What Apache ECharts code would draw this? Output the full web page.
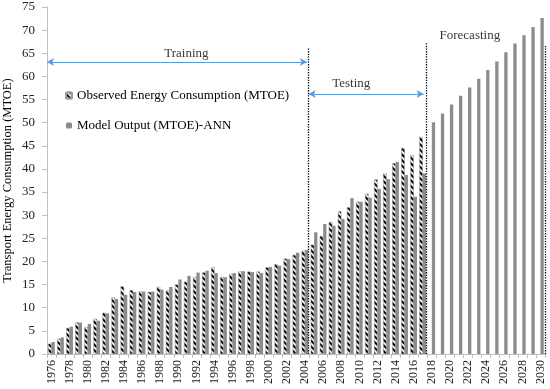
<!DOCTYPE html>
<html>
<head>
<meta charset="utf-8">
<script src="https://cdn.jsdelivr.net/npm/echarts@6/dist/echarts.min.js"></script>
<style>html,body{margin:0;padding:0;background:#fff}#c{width:550px;height:389px}</style>
</head>
<body>
<div id="c"></div>
<script>
const years = ['1976','1977','1978','1979','1980','1981','1982','1983','1984','1985','1986','1987','1988','1989','1990','1991','1992','1993','1994','1995','1996','1997','1998','1999','2000','2001','2002','2003','2004','2005','2006','2007','2008','2009','2010','2011','2012','2013','2014','2015','2016','2017','2018','2019','2020','2021','2022','2023','2024','2025','2026','2027','2028','2029','2030'];
const observed = [2.2,3.3,5.6,6.8,5.8,7.6,8.9,12.2,14.6,13.8,13.5,13.4,14.5,13.7,15.0,15.6,16.6,17.6,18.7,16.6,17.3,17.8,17.8,17.8,18.7,19.4,20.6,21.4,22.3,23.6,25.5,28.5,30.8,31.7,32.9,34.6,37.7,39.0,41.2,44.5,42.9,46.9,null,null,null,null,null,null,null,null,null,null,null,null,null];
const modelOutput = [2.6,3.6,5.9,6.8,6.5,7.2,8.8,11.9,12.8,13.4,13.5,13.5,13.9,14.5,16.1,16.9,17.6,18.0,17.5,16.6,17.5,17.9,17.7,17.5,18.8,19.1,20.5,21.9,22.5,26.3,28.1,27.7,29.2,33.7,32.9,33.8,35.7,37.8,41.5,38.7,34.0,39.0,50.1,52.0,53.9,55.8,57.6,59.5,61.4,63.2,65.2,67.1,68.9,70.7,72.6];
const seriesNames = ['Observed Energy Consumption (MTOE)','Model Output (MTOE)-ANN'];
const phaseNames = ['Training','Testing','Forecasting'];
const yTicks = {min:0, max:75, interval:5};

const serif = '"Liberation Serif","DejaVu Serif",serif';
const chart = echarts.init(document.getElementById('c'), null, {renderer:'canvas'});
const blue = '#5b9bd5';
const dotted = {type:'dotted', color:'#000', width:1.3};
const arrowLine = {type:'solid', color:blue, width:1};
chart.setOption({
  animation:false,
  backgroundColor:'#fff',
  grid:{left:47, right:5, top:7, bottom:35, containLabel:false, outerBoundsMode:'none'},
  legend:{
    orient:'vertical', left:60, top:84, itemGap:17,
    itemWidth:6, itemHeight:6,
    textStyle:{fontFamily:serif, fontSize:13, color:'#000'},
    data:seriesNames
  },
  xAxis:[{
    type:'category', data:years, gridIndex:0,
    axisLine:{lineStyle:{color:'#bfbfbf'}},
    axisTick:{show:true, interval:0, length:4, lineStyle:{color:'#bfbfbf'}},
    axisLabel:{interval:1, rotate:90, margin:6, fontFamily:serif, fontSize:12, color:'#222'}
  },{
    type:'value', min:0, max:55, show:false, gridIndex:0
  }],
  yAxis:{
    type:'value', min:yTicks.min, max:yTicks.max, interval:yTicks.interval,
    name:'Transport Energy Consumption (MTOE)', nameLocation:'middle', nameGap:33, nameMoveOverlap:false,
    nameTextStyle:{fontFamily:serif, fontSize:12.5, color:'#000'},
    axisLine:{show:true, lineStyle:{color:'#bfbfbf'}},
    axisTick:{show:true, length:5, lineStyle:{color:'#bfbfbf'}},
    splitLine:{show:false},
    axisLabel:{margin:12, fontFamily:serif, fontSize:13, color:'#222'}
  },
  series:[
    {
      name:seriesNames[0], type:'bar', data:observed, barWidth:3.3, barGap:'0%',
      itemStyle:{
        color:'#ffffff', borderColor:'#9a9a9a', borderWidth:0.4,
        decal:{symbol:'rect', symbolSize:1, color:'#000', backgroundColor:'#f2f2f2',
               dashArrayX:[1.5,0], dashArrayY:[1.2,1.6], rotation:Math.PI/4}
      }
    },
    {
      name:seriesNames[1], type:'bar', data:modelOutput, barWidth:3.3, barGap:'0%',
      itemStyle:{color:'#8c8c8c'}
    },
    {
      name:'annotations', type:'scatter', xAxisIndex:1, yAxisIndex:0, silent:true,
      symbolSize:0, itemStyle:{color:'rgba(0,0,0,0)'},
      label:{show:true, position:'inside', formatter:'{b}', fontFamily:serif, fontSize:13, color:'#000'},
      data:[
        {name:phaseNames[0], value:[15.4,64.9]},
        {name:phaseNames[1], value:[33.6,58.4]},
        {name:phaseNames[2], value:[46.7,68.8]}
      ],
      markLine:{
        silent:true, animation:false,
        label:{show:false},
        data:[
          [{coord:[28.8,0], symbol:'none', lineStyle:dotted},{coord:[28.8,66.2], symbol:'none'}],
          [{coord:[41.9,0], symbol:'none', lineStyle:dotted},{coord:[41.9,67.2], symbol:'none'}],
          [{coord:[55,0], symbol:'none', lineStyle:dotted},{coord:[55,66.9], symbol:'none'}],
          [{coord:[0,63.1], symbol:'arrow', symbolSize:[6,7], lineStyle:arrowLine},{coord:[28.7,63.1], symbol:'arrow', symbolSize:[6,7]}],
          [{coord:[28.9,56.2], symbol:'arrow', symbolSize:[6,7], lineStyle:arrowLine},{coord:[41.6,56.2], symbol:'arrow', symbolSize:[6,7]}],
          [{coord:[42.0,67.0], symbol:'arrow', symbolSize:[6,7], lineStyle:arrowLine},{coord:[55.1,67.0], symbol:'arrow', symbolSize:[6,7]}]
        ]
      }
    }
  ]
});
</script>
</body>
</html>
